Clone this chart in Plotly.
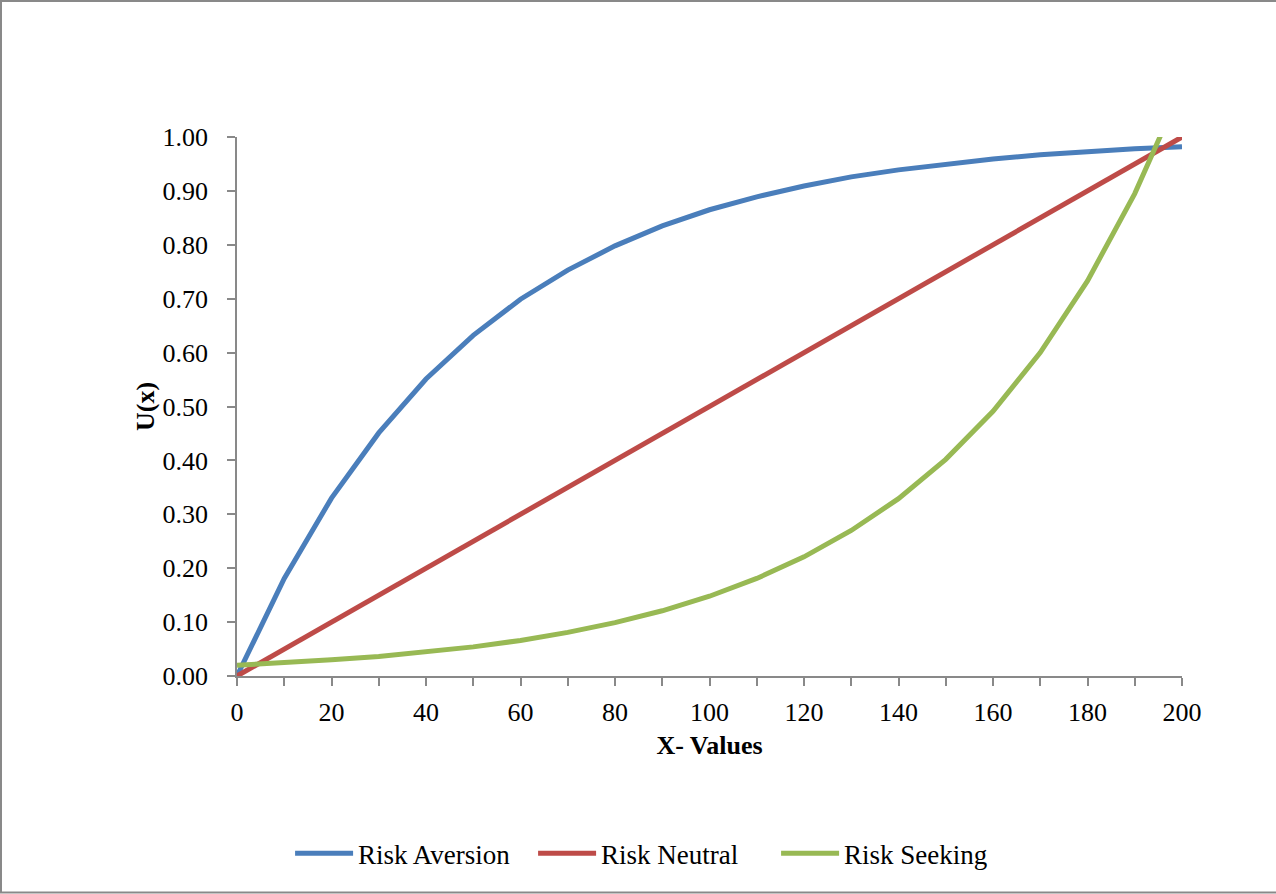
import plotly.graph_objects as go

# Utility curves for three risk attitudes
x_values = [0, 10, 20, 30, 40, 50, 60, 70, 80, 90, 100,
            110, 120, 130, 140, 150, 160, 170, 180, 190, 200]
risk_aversion = [0.000, 0.181, 0.330, 0.451, 0.551, 0.632, 0.699, 0.753, 0.798, 0.835, 0.865,
                 0.889, 0.909, 0.926, 0.939, 0.950, 0.959, 0.967, 0.973, 0.978, 0.982]
risk_neutral = [0.00, 0.05, 0.10, 0.15, 0.20, 0.25, 0.30, 0.35, 0.40, 0.45, 0.50,
                0.55, 0.60, 0.65, 0.70, 0.75, 0.80, 0.85, 0.90, 0.95, 1.00]
risk_seeking = [0.020, 0.024, 0.030, 0.036, 0.045, 0.054, 0.066, 0.081, 0.099, 0.121, 0.148,
                0.181, 0.221, 0.270, 0.329, 0.402, 0.491, 0.600, 0.733, 0.895, 1.092]

y_ticks = [0.0, 0.1, 0.2, 0.3, 0.4, 0.5, 0.6, 0.7, 0.8, 0.9, 1.0]
x_ticks = [0, 20, 40, 60, 80, 100, 120, 140, 160, 180, 200]

FONT = "Liberation Serif"
AXIS_GRAY = "#898989"
FS = 26

series = [
    ("Risk Aversion", risk_aversion, "#4A7EBB"),
    ("Risk Neutral", risk_neutral, "#BE4B48"),
    ("Risk Seeking", risk_seeking, "#98B954"),
]

fig = go.Figure()
for name, vals, color in series:
    fig.add_trace(go.Scatter(
        x=x_values, y=vals, name=name, mode="lines",
        line=dict(color=color, width=5),
    ))

fig.update_layout(
    width=1276, height=894,
    margin=dict(l=237, r=94, t=137, b=218),
    paper_bgcolor="white", plot_bgcolor="white",
    font=dict(family=FONT, size=FS, color="black"),
    showlegend=True,
    legend=dict(
        orientation="h", xref="container", yref="container",
        x=0.513, xanchor="center", y=0.045, yanchor="middle",
        font=dict(family=FONT, size=27, color="black"),
        itemwidth=58, tracegroupgap=0,
        entrywidth=170, entrywidthmode="pixels",
    ),
    xaxis=dict(
        range=[0, 200], tickvals=x_ticks, ticktext=[str(v) for v in x_ticks],
        showgrid=False, zeroline=False,
        showline=True, linecolor=AXIS_GRAY, linewidth=1.5,
        ticks="outside", ticklen=8, tickcolor=AXIS_GRAY, tickwidth=1.5,
        minor=dict(dtick=10, tick0=0, ticks="outside", ticklen=8,
                   tickcolor=AXIS_GRAY, tickwidth=1.5, showgrid=False),
        ticklabelstandoff=4,
        tickfont=dict(family=FONT, size=FS),
        title=dict(text="<b>X- Values</b>", font=dict(family=FONT, size=FS), standoff=10),
    ),
    yaxis=dict(
        range=[0, 1.0], tickvals=y_ticks, ticktext=[f"{v:.2f}" for v in y_ticks],
        showgrid=False, zeroline=False,
        showline=True, linecolor=AXIS_GRAY, linewidth=1.5,
        ticks="outside", ticklen=8, tickcolor=AXIS_GRAY, tickwidth=1.5,
        ticklabelstandoff=14,
        tickfont=dict(family=FONT, size=FS),
        title=dict(text="<b>U(x)</b>", font=dict(family=FONT, size=FS), standoff=0),
    ),
)

# Chart frame
px_w, px_h = 945.0, 539.0
def px_to_paper_x(px):
    return (px - 237.0) / px_w
def px_to_paper_y(py):
    return (676.0 - py) / px_h

fig.add_shape(
    type="rect", xref="paper", yref="paper",
    x0=px_to_paper_x(1.0), x1=px_to_paper_x(1285.0),
    y0=px_to_paper_y(892.5), y1=px_to_paper_y(1.0),
    line=dict(color=AXIS_GRAY, width=2), fillcolor="rgba(0,0,0,0)", layer="below",
)

fig.write_html("out.html")
